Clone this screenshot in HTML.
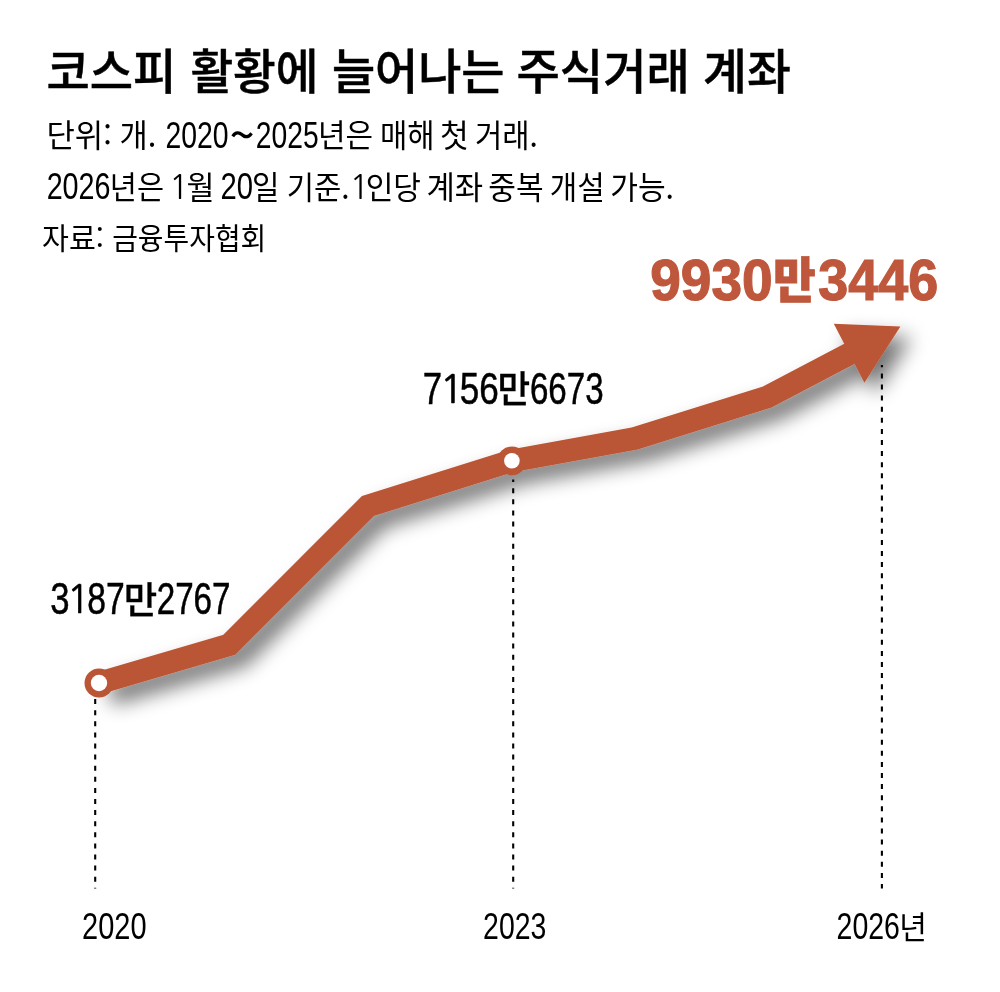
<!DOCTYPE html>
<html lang="ko">
<head>
<meta charset="utf-8">
<title>코스피 활황에 늘어나는 주식거래 계좌</title>
<style>
html,body{margin:0;padding:0;background:#fff;}
body{width:1000px;height:992px;overflow:hidden;}
svg{display:block;}
text{font-family:"Liberation Sans","Noto Sans CJK KR",sans-serif;fill:#000;}
.title{font-family:"Noto Sans CJK KR","Liberation Sans",sans-serif;font-weight:500;font-size:48px;fill:#000;stroke:#000;stroke-width:0.5px;}
.s1k{font-family:"Noto Sans CJK KR","Liberation Sans",sans-serif;font-weight:400;font-size:32px;fill:#000;}
.s1d{font-family:"Liberation Sans","Noto Sans CJK KR",sans-serif;font-weight:400;font-size:36px;fill:#000;}
.s1t{font-family:"Noto Sans CJK KR","Liberation Sans",sans-serif;font-weight:500;font-size:40px;fill:#000;}
.s2k{font-family:"Noto Sans CJK KR","Liberation Sans",sans-serif;font-weight:400;font-size:32px;fill:#000;}
.s2d{font-family:"Liberation Sans","Noto Sans CJK KR",sans-serif;font-weight:400;font-size:36px;fill:#000;}
.s2o{font-family:"NanumGothic","Liberation Sans",sans-serif;font-weight:400;font-size:36px;fill:#000;}
.s3k{font-family:"Noto Sans CJK KR","Liberation Sans",sans-serif;font-weight:400;font-size:31px;fill:#000;}
.v3d{font-family:"Liberation Sans","Noto Sans CJK KR",sans-serif;font-weight:700;font-size:56px;fill:#bf573c;stroke:#bf573c;stroke-width:1.2px;}
.v3k{font-family:"Noto Sans CJK KR","Liberation Sans",sans-serif;font-weight:900;font-size:52px;fill:#bf573c;stroke:#bf573c;stroke-width:1.0px;}
.v2d{font-family:"Liberation Sans","Noto Sans CJK KR",sans-serif;font-weight:400;font-size:42px;fill:#000;stroke:#000;stroke-width:0.5px;}
.v2o{font-family:"NanumGothic","Liberation Sans",sans-serif;font-weight:400;font-size:42px;fill:#000;stroke:#000;stroke-width:0.7px;}
.v2k{font-family:"Noto Sans CJK KR","Liberation Sans",sans-serif;font-weight:500;font-size:38px;fill:#000;stroke:#000;stroke-width:0.3px;}
.v1d{font-family:"Liberation Sans","Noto Sans CJK KR",sans-serif;font-weight:400;font-size:42px;fill:#000;stroke:#000;stroke-width:0.5px;}
.v1o{font-family:"NanumGothic","Liberation Sans",sans-serif;font-weight:400;font-size:42px;fill:#000;stroke:#000;stroke-width:0.7px;}
.v1k{font-family:"Noto Sans CJK KR","Liberation Sans",sans-serif;font-weight:500;font-size:38px;fill:#000;stroke:#000;stroke-width:0.3px;}
.axd{font-family:"Liberation Sans","Noto Sans CJK KR",sans-serif;font-weight:400;font-size:36px;fill:#000;}
.axk{font-family:"Noto Sans CJK KR","Liberation Sans",sans-serif;font-weight:400;font-size:32px;fill:#000;}
</style>
</head>
<body>
<svg width="1000" height="992" viewBox="0 0 1000 992">
<defs>
<filter id="sh" filterUnits="userSpaceOnUse" x="40" y="280" width="940" height="480">
<feGaussianBlur in="SourceAlpha" stdDeviation="10"/>
<feOffset dx="11" dy="11" result="o"/>
<feComponentTransfer><feFuncA type="linear" slope="0.55"/></feComponentTransfer>
<feMerge><feMergeNode/><feMergeNode in="SourceGraphic"/></feMerge>
</filter>
</defs>
<rect width="1000" height="992" fill="#fff"/>

<!-- line + arrow -->
<g filter="url(#sh)" id="arrow">
<polyline points="99,683 229.3,644.8 368,506 511.9,460.8 635,438.4 767.2,397 850,353.4" fill="none" stroke="#ba5636" stroke-width="22.6" stroke-linejoin="miter" stroke-linecap="butt"/>
<polygon points="833.8,323.8 900.4,326.6 864.4,382.8" fill="#ba5636"/>
</g>
<circle cx="99" cy="683" r="14.5" fill="#ba5636"/>
<circle cx="511.9" cy="460.8" r="14.4" fill="#ba5636"/>
<circle cx="99" cy="683" r="8.2" fill="#fff"/>
<circle cx="511.9" cy="460.8" r="7.8" fill="#fff"/>

<!-- dashed guides -->
<g stroke="#000" stroke-width="2.1" stroke-dasharray="5 6.1" fill="none">
<line x1="95.2" y1="699.1" x2="95.2" y2="888.4"/>
<line x1="513.2" y1="479.6" x2="513.2" y2="888.4" stroke-dashoffset="2.5"/>
<line x1="881.9" y1="364.9" x2="881.9" y2="888.4" stroke-dashoffset="2.6"/>
</g>

<g><text class="title" transform="translate(46.41 89) scale(0.9815 0.9867)">코스피</text> <text class="title" transform="translate(190.40 89) scale(0.9671 0.9867)">활황에</text> <text class="title" transform="translate(331.91 89) scale(0.9771 0.9867)">늘어나는</text> <text class="title" transform="translate(516.58 89) scale(0.9805 0.9867)">주식거래</text> <text class="title" transform="translate(702.98 89) scale(0.9946 0.9867)">계좌</text></g>
<g><text class="s1k" transform="translate(46.51 147) scale(0.9635 0.9832)">단위:</text> <text class="s1k" transform="translate(119.62 147) scale(0.9597 0.9832)">개.</text> <text class="s1d" transform="translate(165.38 148) scale(0.7881 1.0016)">2020</text><text class="s1t" transform="translate(229.71 150) scale(1.0829 1.0000)">~</text><text class="s1d" transform="translate(255.71 148) scale(0.7857 1.0016)">2025</text><text class="s1k" transform="translate(318.02 147) scale(0.9362 0.9832)">년은</text> <text class="s1k" transform="translate(379.88 147) scale(0.9282 0.9832)">매해</text> <text class="s1k" transform="translate(440.12 147) scale(0.9765 0.9832)">첫</text> <text class="s1k" transform="translate(474.98 147) scale(0.9277 0.9832)">거래.</text></g>
<g><text class="s2d" transform="translate(46.64 199) scale(0.7982 1.0042)">2026</text><text class="s2k" transform="translate(109.83 199) scale(0.9211 0.9813)">년은</text> <text class="s2o" transform="translate(168.98 199) scale(0.9166 0.9271)">1</text><text class="s2k" transform="translate(186.47 199) scale(0.9517 0.9813)">월</text> <text class="s2d" transform="translate(220.61 199) scale(0.8124 1.0042)">20</text><text class="s2k" transform="translate(252.03 199) scale(0.9330 0.9813)">일</text> <text class="s2k" transform="translate(286.63 199) scale(0.9273 0.9813)">기준.</text><text class="s2o" transform="translate(349.47 199) scale(0.9165 0.9271)">1</text><text class="s2k" transform="translate(365.67 199) scale(0.9406 0.9813)">인당</text> <text class="s2k" transform="translate(426.43 199) scale(0.9640 0.9813)">계좌</text> <text class="s2k" transform="translate(488.34 199) scale(0.9396 0.9813)">중복</text> <text class="s2k" transform="translate(549.81 199) scale(0.9344 0.9813)">개설</text> <text class="s2k" transform="translate(610.22 199) scale(0.9411 0.9813)">가능.</text></g>
<g><text class="s3k" transform="translate(42.04 249) scale(0.9431 0.9450)">자료:</text> <text class="s3k" transform="translate(112.16 249) scale(0.9013 0.9450)">금융투자협회</text></g>
<g><text class="v3d" transform="translate(650.21 300) scale(0.9833 1.0161)">9930</text><text class="v3k" transform="translate(773.31 298) scale(0.8832 0.9328)">만</text><text class="v3d" transform="translate(818.27 300) scale(0.9626 1.0161)">3446</text></g>
<g><text class="v2d" transform="translate(422.83 404) scale(0.8292 1.0400)">7</text><text class="v2o" transform="translate(439.72 403) scale(0.9396 0.9471)">1</text><text class="v2d" transform="translate(459.75 404) scale(0.8353 1.0400)">56</text><text class="v2k" transform="translate(497.58 403) scale(0.9340 0.9799)">만</text><text class="v2d" transform="translate(529.94 404) scale(0.7886 1.0400)">6673</text></g>
<g><text class="v1d" transform="translate(50.33 614) scale(0.8267 1.0461)">3</text><text class="v1o" transform="translate(66.82 613) scale(0.9200 0.9345)">1</text><text class="v1d" transform="translate(87.35 614) scale(0.8014 1.0461)">87</text><text class="v1k" transform="translate(123.87 614) scale(0.9576 0.9786)">만</text><text class="v1d" transform="translate(156.69 614) scale(0.7901 1.0461)">2767</text></g>
<g><text class="axd" transform="translate(82.08 939) scale(0.8051 1.0080)">2020</text></g>
<g><text class="axd" transform="translate(483.08 939) scale(0.7902 1.0080)">2023</text></g>
<g><text class="axd" transform="translate(836.55 939) scale(0.7915 1.0080)">2026</text><text class="axk" transform="translate(899.36 939) scale(0.9398 0.9768)">년</text></g>
</svg>
</body>
</html>
